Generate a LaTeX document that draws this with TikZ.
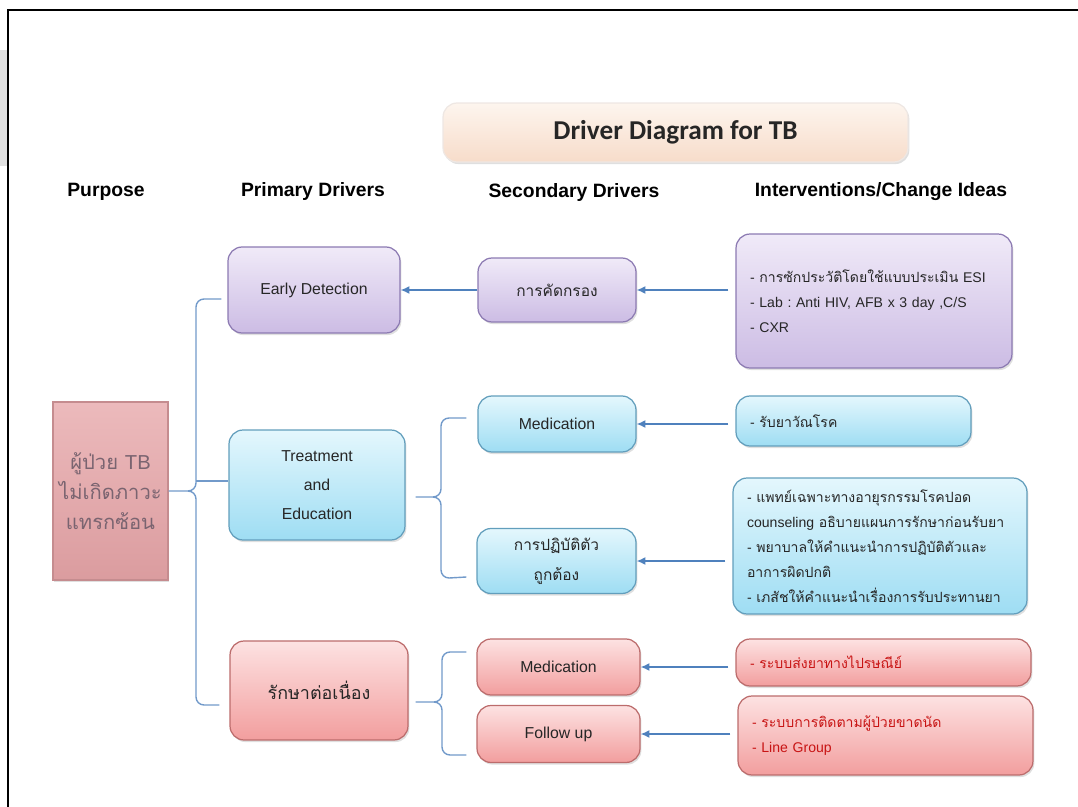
\documentclass[tikz,border=0pt]{standalone}
\usepackage{fontspec}
\setmainfont{Liberation Sans}
\newfontfamily\thfont[Script=Thai]{Loma}
\newfontfamily\titlefont{Carlito}
\usetikzlibrary{arrows.meta,shadows}
\frenchspacing

\definecolor{linkblue}{RGB}{79,129,189}
\definecolor{purpletop}{RGB}{240,234,248}
\definecolor{purplebot}{RGB}{204,188,228}
\definecolor{purpleedge}{RGB}{140,122,178}
\definecolor{bluetop}{RGB}{228,247,253}
\definecolor{bluebot}{RGB}{158,221,243}
\definecolor{blueedge}{RGB}{98,158,188}
\definecolor{redtop}{RGB}{253,226,226}
\definecolor{redbot}{RGB}{242,158,158}
\definecolor{rededge}{RGB}{188,108,108}
\definecolor{rosetop}{RGB}{236,186,188}
\definecolor{rosebot}{RGB}{219,156,159}
\definecolor{rosetext}{RGB}{122,100,112}
\definecolor{peachtop}{RGB}{253,245,238}
\definecolor{peachbot}{RGB}{247,220,202}
\definecolor{ideared}{RGB}{200,20,20}

\tikzset{
  box/.style={rounded corners=8pt, line width=0.7pt, align=center, inner sep=2pt,
    text=black!85, drop shadow={opacity=0.25,shadow xshift=0.8pt,shadow yshift=-1.2pt}},
  purplebox/.style={box, draw=purpleedge, top color=purpletop, bottom color=purplebot},
  bluebox/.style={box, draw=blueedge, top color=bluetop, bottom color=bluebot},
  redbox/.style={box, draw=rededge, top color=redtop, bottom color=redbot},
  ideabox/.style={align=left, inner xsep=0.28cm, font=\fontsize{8}{14.2}\selectfont},
  head/.style={font=\bfseries\fontsize{11}{13}\selectfont},
  arr/.style={draw=linkblue, line width=0.8pt, -{Latex[length=5pt,width=4.5pt]}},
  link/.style={draw=linkblue!80, line width=0.8pt}
}

\begin{document}
\begin{tikzpicture}[x=0.02cm,y=-0.02cm,font=\fontsize{9}{11}\selectfont]
  \useasboundingbox (0,0) rectangle (1078,807);
  % frame
  \fill[black!12] (0,50) rectangle (7,166);
  \draw[line width=1pt] (8,807) -- (8,10) -- (1078,10);

  % title and column heads
  \node[box, draw=peachbot!80!black!30, top color=peachtop, bottom color=peachbot,
    minimum width=9.3cm, minimum height=1.18cm] (title) at (675.5,132.5)
    {\titlefont\bfseries\fontsize{15.5}{18}\selectfont Driver Diagram for TB};
  \node[head] (hPurpose) at (106,192) {Purpose};
  \node[head] (hPrimary) at (313,192) {Primary Drivers};
  \node[head] (hSecondary) at (574,193) {Secondary Drivers};
  \node[head] (hIdeas) at (881,192) {Interventions/Change Ideas};

  % purpose
  \node[box, rounded corners=0pt, draw=rosebot!90!black, top color=rosetop, bottom color=rosebot,
    minimum width=2.3cm, minimum height=3.56cm, text=rosetext,
    font=\thfont\fontsize{11.5}{17}\selectfont] (purpose) at (110.5,491)
    {ผู้ป่วย {\rmfamily TB}\\ไม่เกิดภาวะ\\แทรกซ้อน};

  % primary drivers
  \node[purplebox, minimum width=3.44cm, minimum height=1.72cm] (early) at (314,290) {Early Detection};
  \node[bluebox, minimum width=3.52cm, minimum height=2.2cm, font=\fontsize{9}{16.5}\selectfont]
    (lead) at (317,485) {Treatment\\and\\Education};
  \node[redbox, minimum width=3.56cm, minimum height=1.98cm, font=\thfont\fontsize{10.2}{14}\selectfont]
    (keep) at (319,690.5) {รักษาต่อเนื่อง};

  % secondary drivers
  \node[purplebox, minimum width=3.16cm, minimum height=1.28cm, font=\thfont\fontsize{8.8}{17}\selectfont]
    (screen) at (557,290) {การคัดกรอง};
  \node[bluebox, minimum width=3.16cm, minimum height=1.12cm] (medA) at (557,424) {Medication};
  \node[bluebox, minimum width=3.18cm, minimum height=1.3cm, font=\thfont\fontsize{8.8}{17}\selectfont]
    (selfcare) at (556.5,561) {การปฏิบัติตัว\\ถูกต้อง};
  \node[redbox, minimum width=3.26cm, minimum height=1.12cm] (medB) at (558.5,667) {Medication};
  \node[redbox, minimum width=3.26cm, minimum height=1.14cm] (follow) at (558.5,734) {Follow up};

  % interventions
  \node[purplebox, ideabox, text width=4.96cm, minimum height=2.68cm] (ivA) at (874,301)
    {- {\thfont การซักประวัติโดยใช้แบบประเมิน} ESI\\- Lab : Anti HIV, AFB x 3 day ,C/S\\- CXR};
  \node[bluebox, ideabox, text width=4.14cm, minimum height=1.0cm] (ivB) at (853.5,421)
    {- {\thfont รับยาวัณโรค}};
  \node[bluebox, ideabox, text width=5.32cm, minimum height=2.72cm] (ivC) at (880,546)
    {- {\thfont แพทย์เฉพาะทางอายุรกรรมโรคปอด}\\counseling {\thfont อธิบายแผนการรักษาก่อนรับยา}\\
     - {\thfont พยาบาลให้คำแนะนำการปฏิบัติตัวและ}\\{\thfont อาการผิดปกติ}\\
     - {\thfont เภสัชให้คำแนะนำเรื่องการรับประทานยา}};
  \node[redbox, ideabox, text width=5.34cm, minimum height=0.94cm, text=ideared] (ivD) at (883.5,662.5)
    {- {\thfont ระบบส่งยาทางไปรษณีย์}};
  \node[redbox, ideabox, text width=5.34cm, minimum height=1.58cm, text=ideared] (ivE) at (885.5,735.5)
    {- {\thfont ระบบการติดตามผู้ป่วยขาดนัด}\\- Line Group};

  % arrows
  \draw[arr] (screen.west) -- (early.east);
  \draw[arr, shorten <=0.14cm] (ivA.west |- screen.east) -- (screen.east);
  \draw[arr, shorten <=0.14cm] (ivB.west |- medA.east) -- (medA.east);
  \draw[arr, shorten <=0.14cm] (ivC.west |- selfcare.east) -- (selfcare.east);
  \draw[arr, shorten <=0.14cm] (ivD.west |- medB.east) -- (medB.east);
  \draw[arr, shorten <=0.14cm] (ivE.west |- follow.east) -- (follow.east);

  % braces
  \coordinate (spineA) at (196,481);
  \draw[link] ([xshift=-0.12cm,yshift=-0.18cm]early.west) -- (204,299) to[out=180,in=90] (196,307)
    -- (196,483) to[out=-90,in=0] (188,491) -- (purpose.east);
  \draw[link] (188,491) to[out=0,in=90] (196,499) -- (196,697) to[out=-90,in=180] (204,705)
    -- ([xshift=-0.2cm,yshift=-0.29cm]keep.west);
  \draw[link] (spineA) -- (lead.west |- spineA);
  \draw[link] ([xshift=-0.22cm,yshift=0.12cm]medA.west) -- (449,418) to[out=180,in=90] (441,426)
    -- (441,489) to[out=-90,in=0] (433,497) -- ([xshift=0.2cm,yshift=-0.24cm]lead.east);
  \draw[link] (433,497) to[out=0,in=90] (441,505) -- (441,570) to[out=-90,in=180] (449,578)
    -- ([xshift=-0.2cm,yshift=-0.32cm]selfcare.west);
  \draw[link] ([xshift=-0.2cm,yshift=0.3cm]medB.west) -- (450,652) to[out=180,in=90] (442,660)
    -- (442,694) to[out=-90,in=0] (434,702) -- ([xshift=0.14cm,yshift=-0.23cm]keep.east);
  \draw[link] (434,702) to[out=0,in=90] (442,710) -- (442,747) to[out=-90,in=180] (450,755)
    -- ([xshift=-0.2cm,yshift=-0.42cm]follow.west);
\end{tikzpicture}
\end{document}
